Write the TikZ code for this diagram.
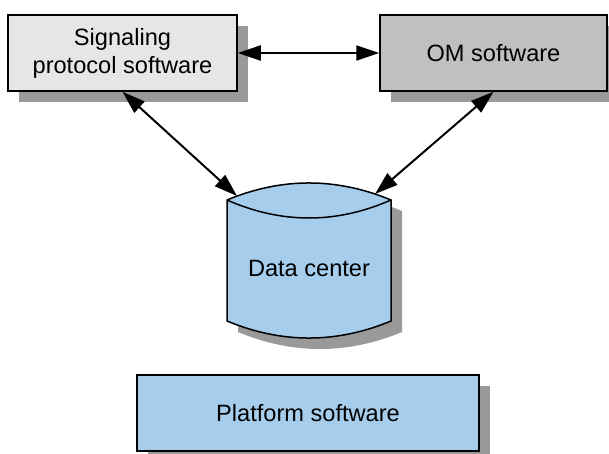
\documentclass[tikz,border=0pt]{standalone}
\usepackage{fontspec}
\setmainfont{Liberation Sans}
\usetikzlibrary{shadows, arrows.meta}

\definecolor{sigfill}{HTML}{E6E6E6}
\definecolor{omfill}{HTML}{C0C0C0}
\definecolor{blockblue}{HTML}{A6CDEC}
\definecolor{shadowgray}{HTML}{999999}

\begin{document}
\begin{tikzpicture}[
    x=0.5pt, y=-0.5pt,
    box/.style={
        draw,
        line width=0.75pt,
        align=center,
        inner sep=0pt,
        font=\fontsize{11.8}{14}\selectfont,
        minimum height=38pt,
        drop shadow={shadow xshift=5.5pt, shadow yshift=-5.5pt, fill=shadowgray, opacity=1}
    },
    dctext/.style={font=\fontsize{11.8}{14}\selectfont, inner sep=0pt},
    link/.style={arrows={Triangle[length=11.5pt, width=7.5pt]-Triangle[length=11.5pt, width=7.5pt]}, line width=1pt}
]
\useasboundingbox (0,0) rectangle (609,454);

% Software blocks
\node[box, fill=sigfill, minimum width=114.5pt] (sig) at (122.5,53) {Signaling\\protocol software};
\node[box, fill=omfill, minimum width=113.5pt] (om) at (493.5,53) {OM software};
\node[box, fill=blockblue, minimum width=171pt] (platform) at (308,413) {Platform software};

% Data center cylinder (shadow first, then body)
\begin{scope}[shift={(11,11)}]
    \fill[shadowgray] (227,200) .. controls (281.7,177.3) and (336.3,177.3) .. (391,200)
        -- (391,321) .. controls (336.3,343.7) and (281.7,343.7) .. (227,321) -- cycle;
\end{scope}
\draw[fill=blockblue, line width=0.75pt] (227,200) .. controls (281.7,177.3) and (336.3,177.3) .. (391,200)
    -- (391,321) .. controls (336.3,343.7) and (281.7,343.7) .. (227,321) -- cycle;
\draw[line width=0.75pt] (227,200) .. controls (281.7,224) and (336.3,224) .. (391,200);
\node[dctext] (dc) at (309,268) {Data center};
\coordinate (dcl) at (237,196);
\coordinate (dcr) at (375,194);

% Connections
\draw[link] (sig.east) -- (om.west);
\draw[link] (sig.south) -- (dcl);
\draw[link] (om.south) -- (dcr);

\end{tikzpicture}
\end{document}
